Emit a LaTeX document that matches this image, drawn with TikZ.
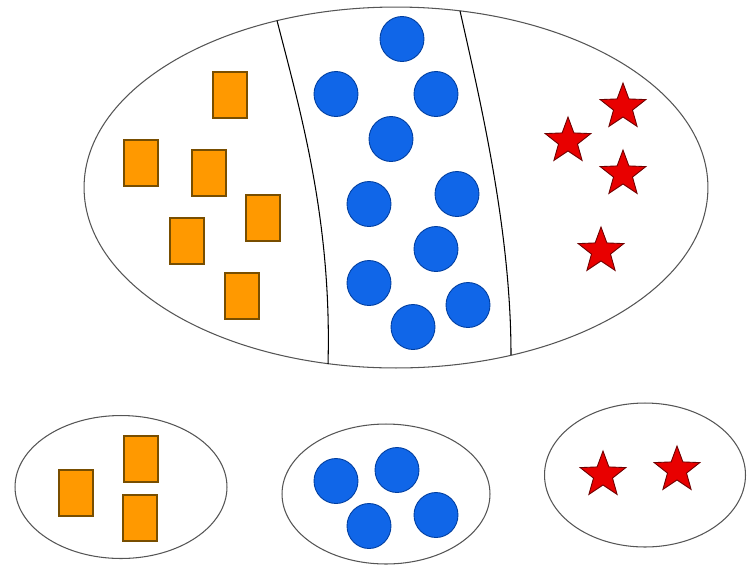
\documentclass[tikz,border=0pt]{standalone}
\usetikzlibrary{shapes.geometric}

\definecolor{boxorange}{RGB}{255,153,0}
\definecolor{boxedge}{RGB}{120,78,0}
\definecolor{dotblue}{RGB}{16,102,232}
\definecolor{dotedge}{RGB}{0,62,160}
\definecolor{starred}{RGB}{232,0,0}
\definecolor{staredge}{RGB}{110,0,0}
\definecolor{rim}{RGB}{85,85,85}

\tikzset{
  box/.style={draw=boxedge, fill=boxorange, line width=0.6pt, minimum width=0.68cm, minimum height=0.92cm, inner sep=0},
  dot/.style={ellipse, draw=dotedge, fill=dotblue, line width=0.5pt, minimum width=0.88cm, minimum height=0.9cm, inner sep=0},
  redstar/.style={star, star points=5, star point ratio=2.4, draw=staredge, fill=starred, line width=0.5pt, minimum size=0.96cm, inner sep=0},
  group/.style={ellipse, draw=rim, line width=0.6pt, inner sep=0}
}

\begin{document}
\begin{tikzpicture}[x=0.02cm, y=-0.02cm]
  \useasboundingbox (0,0) rectangle (747,569);

  % the whole set
  \node[group, minimum width=12.48cm, minimum height=7.22cm] (all) at (396,187.5) {};
  \draw[line width=0.6pt] (277,20.5) .. controls (300,110) and (332,220) .. (328,364);
  \draw[line width=0.6pt] (460,10.8) .. controls (480,100) and (511,230) .. (511,355);

  \foreach \p [count=\i] in {(230,95),(141,163),(209,173),(263,218),(187,241),(242,296)}
    \node[box] (b\i) at \p {};
  \foreach \p [count=\i] in {(402,39),(336,94),(436,94),(391,139),(369,204),(457,194),(436,249),(369,283),(468,305),(413,327)}
    \node[dot] (d\i) at \p {};
  \foreach \p [count=\i] in {(623,107),(568,141),(623,174),(601,251)}
    \node[redstar] (s\i) at \p {};

  % the three samples
  \node[group, minimum width=4.24cm, minimum height=2.86cm] (left) at (121,487) {};
  \node[box] (lb1) at (76,493) {};
  \node[box] (lb2) at (141,459) {};
  \node[box] (lb3) at (140,518) {};

  \node[group, minimum width=4.16cm, minimum height=2.8cm] (mid) at (386,494) {};
  \node[dot] (md1) at (336,481) {};
  \node[dot] (md2) at (397,470) {};
  \node[dot] (md3) at (369,526) {};
  \node[dot] (md4) at (436,515) {};

  \node[group, minimum width=4.02cm, minimum height=2.88cm] (right) at (645,475) {};
  \node[redstar] (rs1) at (603,475) {};
  \node[redstar] (rs2) at (677,470) {};
\end{tikzpicture}
\end{document}
